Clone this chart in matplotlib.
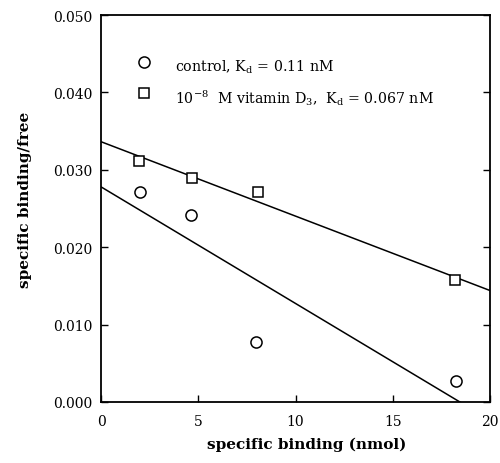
import numpy as np
import matplotlib
matplotlib.use("Agg")
import matplotlib.pyplot as plt

plt.rcParams["font.family"] = ["DejaVu Serif"]
plt.rcParams["mathtext.fontset"] = "dejavuserif"

# Scatchard data: specific binding (nmol) vs. bound/free ratio
control_x = [2.0, 4.65, 7.95, 18.25]
control_y = [0.0271, 0.0241, 0.0078, 0.0027]
vitd_x = [1.97, 4.66, 8.06, 18.2]
vitd_y = [0.0311, 0.0290, 0.0271, 0.0157]

control_label = r"control, K$_\mathrm{d}$ = 0.11 nM"
vitd_label = r"10$^{-8}$  M vitamin D$_3$,  K$_\mathrm{d}$ = 0.067 nM"

x_ticks = [0, 5, 10, 15, 20]
y_ticks = [0.000, 0.010, 0.020, 0.030, 0.040, 0.050]

fig = plt.figure(figsize=(5.0, 4.64), dpi=100)
ax = fig.add_axes([0.202, 0.1315, 0.778, 0.834])

# least-squares regression lines for each condition
xfit = np.array([0.0, 20.0])
for xs, ys in ((control_x, control_y), (vitd_x, vitd_y)):
    m, b = np.polyfit(xs, ys, 1)
    ax.plot(xfit, m * xfit + b, color="black", lw=1.1, zorder=2)

circle_style = dict(marker="o", ms=8, mfc="white", mec="black", mew=1.1, ls="none")
square_style = dict(marker="s", ms=7, mfc="white", mec="black", mew=1.1, ls="none")

ax.plot(control_x, control_y, zorder=3, **circle_style)
ax.plot(vitd_x, vitd_y, zorder=3, **square_style)

# key, placed by hand in axes coordinates
ax.plot([0.1105], [0.879], transform=ax.transAxes, clip_on=False, **circle_style)
ax.plot([0.1105], [0.798], transform=ax.transAxes, clip_on=False, **square_style)
ax.text(0.19, 0.856, control_label, transform=ax.transAxes, fontsize=10.2,
        va="baseline", ha="left")
ax.text(0.19, 0.774, vitd_label, transform=ax.transAxes, fontsize=10.2,
        va="baseline", ha="left")

ax.set_xlim(0, 20)
ax.set_ylim(0, 0.05)
ax.set_xticks(x_ticks)
ax.set_xticklabels([str(t) for t in x_ticks])
ax.set_yticks(y_ticks)
ax.set_yticklabels([f"{t:.3f}" for t in y_ticks])
ax.tick_params(direction="in", length=5, width=1.0, labelsize=10,
               right=True, top=False)
ax.tick_params(axis="x", pad=9)
ax.tick_params(axis="y", pad=6)
for s in ax.spines.values():
    s.set_linewidth(1.3)

ax.set_xlabel("specific binding (nmol)", fontsize=11, fontweight="bold")
ax.xaxis.set_label_coords(0.53, -0.09)
ax.set_ylabel("specific binding/free", fontsize=11, fontweight="bold")
ax.yaxis.set_label_coords(-0.178, 0.525)

fig.savefig("out.png", dpi=100)
